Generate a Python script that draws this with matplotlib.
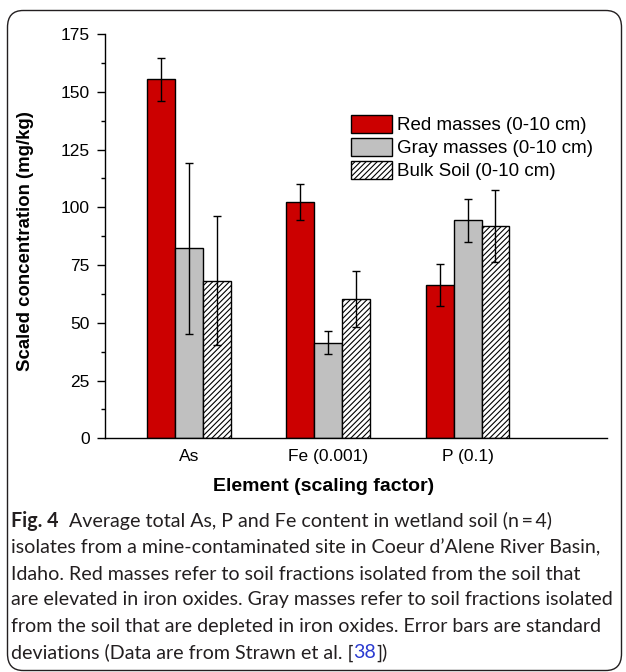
import numpy as np
import matplotlib.pyplot as plt
from matplotlib.patches import FancyBboxPatch

# data
elements = ['As', 'Fe (0.001)', 'P (0.1)']
red_mean = [155.5, 102.2, 66.4]
red_sd = [9.3, 7.7, 9.2]
gray_mean = [82.2, 41.4, 94.3]
gray_sd = [37.0, 5.0, 9.4]
bulk_mean = [68.2, 60.2, 91.8]
bulk_sd = [28.0, 12.0, 15.6]
series_labels = ['Red masses (0-10 cm)', 'Gray masses (0-10 cm)', 'Bulk Soil (0-10 cm)']

plt.rcParams['font.family'] = ['Liberation Sans', 'DejaVu Sans']
plt.rcParams['hatch.linewidth'] = 0.8

W, H = 626, 672
fig = plt.figure(figsize=(W / 100, H / 100), dpi=100)

# rounded caption box
box = FancyBboxPatch((7.5 / W, 1.5 / H), 614 / W, 660 / H,
                     boxstyle='round,pad=0,rounding_size=0.025',
                     transform=fig.transFigure, fill=False,
                     edgecolor='#231f20', linewidth=1.0)
fig.patches.append(box)

ax = fig.add_axes([105 / W, 1 - 438.3 / H, 502 / W, 404.3 / H])

x = np.arange(1, len(elements) + 1)
width = 0.2
err_kw = dict(ecolor='black', elinewidth=1.0, capsize=2.8, capthick=1.0)

ax.bar(x - width, red_mean, width, yerr=red_sd, color='#cc0000',
       edgecolor='black', linewidth=1.0, error_kw=err_kw, label=series_labels[0])
ax.bar(x, gray_mean, width, yerr=gray_sd, color='#c0c0c0',
       edgecolor='black', linewidth=1.0, error_kw=err_kw, label=series_labels[1])
ax.bar(x + width, bulk_mean, width, yerr=bulk_sd, color='white',
       edgecolor='black', linewidth=1.0, hatch='//////', error_kw=err_kw,
       label=series_labels[2])

ax.set_xlim(0.4, 4.0)
ax.set_ylim(0, 175)
ax.set_xticks(x)
ax.set_xticklabels(elements, fontsize=12.5)
ax.set_yticks(np.arange(0, 176, 25))
ax.set_yticks(np.arange(12.5, 175, 25), minor=True)
ax.tick_params(axis='y', which='major', length=6, width=1.0, labelsize=12.5, pad=5)
ax.tick_params(axis='y', which='minor', length=3, width=1.0)
ax.tick_params(axis='x', length=0, pad=8)

for side in ['top', 'right']:
    ax.spines[side].set_visible(False)
for side in ['left', 'bottom']:
    ax.spines[side].set_linewidth(1.0)

ax.set_xlabel('Element (scaling factor)', fontsize=14, fontweight='bold')
ax.xaxis.set_label_coords((324 - 105) / 502, -(478 - 438.3) / 404.3)
ax.set_ylabel('Scaled concentration (mg/kg)', fontsize=13.4, fontweight='bold')
ax.yaxis.set_label_coords(-(105 - 34) / 502, (438.3 - 241) / 404.3)

ax.legend(loc='upper left', bbox_to_anchor=(350.7 / W, 1 - 115 / H),
          bbox_transform=fig.transFigure, frameon=False, fontsize=13.5,
          handlelength=2.19, handleheight=1.07, handletextpad=0.28,
          labelspacing=0.2, borderpad=0, borderaxespad=0)

# caption, drawn piece by piece so the bold / blue parts sit inline
cap_font = ['Lato', 'DejaVu Sans']
cap_size = 14.1
cap_color = '#231f20'
caption_lines = [
    [('Fig. 4', 'bold', cap_color), ('  Average total As, P and Fe content in wetland soil (n\u2009=\u20094)', 'normal', cap_color)],
    [('isolates from a mine-contaminated site in Coeur d\u2019Alene River Basin,', 'normal', cap_color)],
    [('Idaho. Red masses refer to soil fractions isolated from the soil that', 'normal', cap_color)],
    [('are elevated in iron oxides. Gray masses refer to soil fractions isolated', 'normal', cap_color)],
    [('from the soil that are depleted in iron oxides. Error bars are standard', 'normal', cap_color)],
    [('deviations (Data are from Strawn et al. [', 'normal', cap_color), ('38', 'normal', '#2b3bd1'), ('])', 'normal', cap_color)],
]
line_y = [521, 547.5, 574, 600, 626.5, 653]

renderer = fig.canvas.get_renderer()
for pieces, yy in zip(caption_lines, line_y):
    xpos = 11
    for txt, weight, col in pieces:
        t = fig.text(xpos / W, 1 - yy / H, txt, fontsize=cap_size, family=cap_font,
                     fontweight=weight, color=col, ha='left', va='center')
        bb = t.get_window_extent(renderer=renderer)
        xpos += bb.width

fig.savefig('out.png', dpi=100)
